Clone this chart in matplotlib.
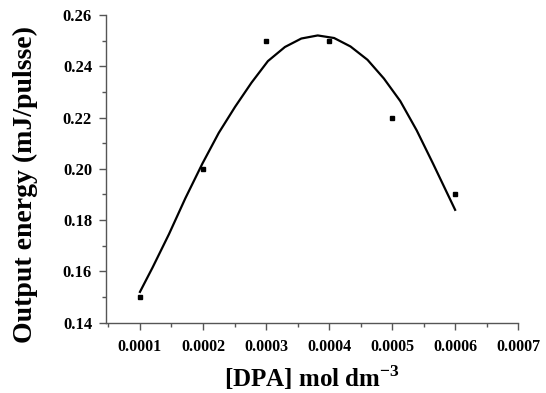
import matplotlib
matplotlib.use("Agg")
import matplotlib.pyplot as plt
from matplotlib.ticker import MultipleLocator, FormatStrFormatter

# measured points
dpa = [0.0001, 0.0002, 0.0003, 0.0004, 0.0005, 0.0006]
energy = [0.150, 0.200, 0.250, 0.250, 0.220, 0.190]

# fitted curve
curve_x = [0.000100, 0.000120, 0.000146, 0.000172, 0.000199, 0.000225,
           0.000251, 0.000277, 0.000303, 0.000330, 0.000356, 0.000382,
           0.000408, 0.000434, 0.000461, 0.000487, 0.000513, 0.000539,
           0.000565, 0.000600]
curve_y = [0.152, 0.1615, 0.1745, 0.1885, 0.2020, 0.2140,
           0.2242, 0.2336, 0.2420, 0.2475, 0.2508, 0.2520,
           0.2510, 0.2477, 0.2425, 0.2352, 0.2264, 0.2150,
           0.2020, 0.1840]

xticks = [0.0001, 0.0002, 0.0003, 0.0004, 0.0005, 0.0006, 0.0007]
yticks = [0.14, 0.16, 0.18, 0.20, 0.22, 0.24, 0.26]

plt.rcParams['font.family'] = ['Liberation Serif', 'DejaVu Serif']
plt.rcParams['font.weight'] = 'bold'
plt.rcParams['mathtext.fontset'] = 'custom'
plt.rcParams['mathtext.rm'] = 'Liberation Serif:bold'
plt.rcParams['mathtext.bf'] = 'Liberation Serif:bold'

fig = plt.figure(figsize=(5.46, 3.93), dpi=100)
ax = fig.add_axes([0.194, 0.179, 0.755, 0.783])

ax.plot(curve_x, curve_y, color='black', lw=1.6, solid_joinstyle='round')
ax.plot(dpa, energy, 's', color='black', ms=3.5)

ax.set_xlim(0.000046, 0.0007)
ax.set_ylim(0.14, 0.26)
ax.set_xticks(xticks)
ax.set_yticks(yticks)
ax.xaxis.set_major_formatter(FormatStrFormatter('%.4f'))
ax.yaxis.set_major_formatter(FormatStrFormatter('%.2f'))
ax.xaxis.set_minor_locator(MultipleLocator(0.00005))
ax.yaxis.set_minor_locator(MultipleLocator(0.01))

ax.spines['top'].set_visible(False)
ax.spines['right'].set_visible(False)
for s in ['left', 'bottom']:
    ax.spines[s].set_color('#555555')
    ax.spines[s].set_linewidth(1.0)

ax.tick_params(which='major', direction='out', length=5, width=1, color='#555555')
ax.tick_params(which='minor', direction='out', length=3, width=1, color='#555555')
ax.tick_params(axis='x', labelsize=11.5, pad=7)
ax.tick_params(axis='y', labelsize=12, pad=5)
for lab in ax.get_xticklabels() + ax.get_yticklabels():
    lab.set_fontweight('bold')

ax.set_xlabel('[DPA] mol dm$^{\\mathrm{-3}}$', fontsize=18, fontweight='bold', labelpad=6)
ax.set_ylabel('Output energy (mJ/pulsse)', fontsize=20, fontweight='bold')
ax.yaxis.set_label_coords(-0.165, 0.45)

fig.savefig('out.png', dpi=100)
